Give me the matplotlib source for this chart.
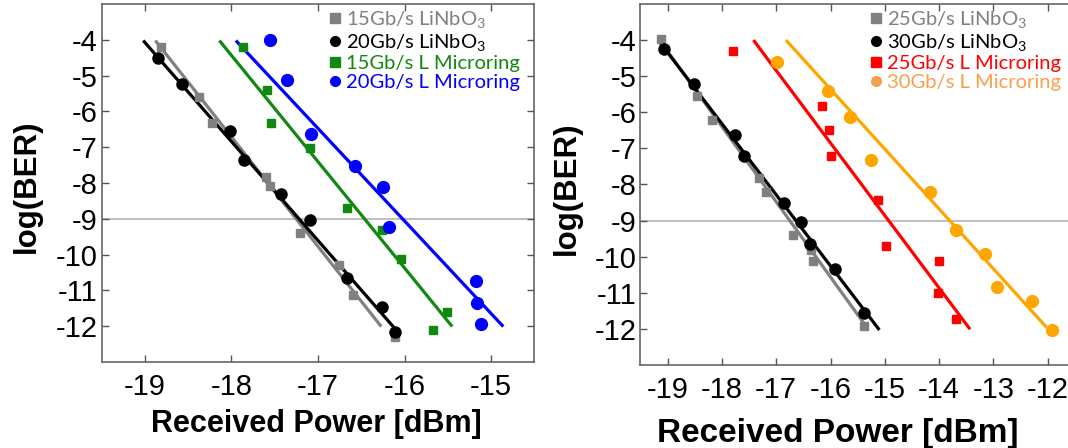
import matplotlib
matplotlib.use('Agg')
import matplotlib.pyplot as plt
from matplotlib.lines import Line2D

plt.rcParams['font.family'] = ['Liberation Sans', 'DejaVu Sans']
plt.rcParams['mathtext.fontset'] = 'custom'
plt.rcParams['mathtext.rm'] = 'Lato'
plt.rcParams['axes.unicode_minus'] = False

# LEFT PANEL DATA (15 / 20 Gb/s)
l15_ln_x = [-18.81, -18.37, -18.22, -17.60, -17.56, -17.21, -16.76, -16.60, -16.11]
l15_ln_y = [-4.21, -5.60, -6.32, -7.84, -8.09, -9.40, -10.30, -11.12, -12.31]
l20_ln_x = [-18.85, -18.57, -18.02, -17.86, -17.43, -17.09, -16.66, -16.26, -16.11]
l20_ln_y = [-4.51, -5.23, -6.56, -7.35, -8.32, -9.02, -10.65, -11.45, -12.15]
l15_mr_x = [-17.87, -17.59, -17.54, -17.09, -16.67, -16.26, -16.04, -15.51, -15.67]
l15_mr_y = [-4.21, -5.40, -6.32, -7.03, -8.70, -9.31, -10.12, -11.61, -12.12]
l20_mr_x = [-17.55, -17.36, -17.08, -16.57, -16.25, -16.18, -15.18, -15.16, -15.12]
l20_mr_y = [-4.00, -5.12, -6.63, -7.53, -8.12, -9.22, -10.73, -11.34, -11.94]
# fitted lines (end points)
l15_ln_fit_x, l15_ln_fit_y = [-18.88, -16.27], [-4.02, -12.01]
l20_ln_fit_x, l20_ln_fit_y = [-19.02, -16.06], [-4.02, -12.21]
l15_mr_fit_x, l15_mr_fit_y = [-18.14, -15.45], [-4.02, -12.01]
l20_mr_fit_x, l20_mr_fit_y = [-17.95, -14.86], [-4.02, -12.01]

# RIGHT PANEL DATA (25 / 30 Gb/s)
r25_ln_x = [-19.13, -18.46, -18.19, -17.31, -17.19, -16.69, -16.36, -16.33, -15.38]
r25_ln_y = [-3.97, -5.54, -6.21, -7.81, -8.22, -9.40, -9.82, -10.11, -11.93]
r30_ln_x = [-19.06, -18.52, -17.76, -17.59, -16.85, -16.54, -16.38, -15.91, -15.39]
r30_ln_y = [-4.25, -5.22, -6.63, -7.20, -8.51, -9.03, -9.65, -10.33, -11.55]
r25_mr_x = [-17.80, -16.15, -16.03, -16.00, -15.13, -14.98, -14.00, -14.02, -13.69]
r25_mr_y = [-4.30, -5.82, -6.49, -7.20, -8.43, -9.70, -10.11, -11.00, -11.73]
r30_mr_x = [-16.98, -16.05, -15.64, -15.26, -14.17, -13.69, -13.15, -12.93, -12.29, -11.92]
r30_mr_y = [-4.62, -5.42, -6.12, -7.32, -8.22, -9.25, -9.93, -10.85, -11.24, -12.03]
r25_ln_fit_x, r25_ln_fit_y = [-19.15, -15.33], [-4.00, -11.96]
r30_ln_fit_x, r30_ln_fit_y = [-19.15, -15.10], [-4.05, -12.03]
r25_mr_fit_x, r25_mr_fit_y = [-17.42, -13.43], [-4.00, -12.01]
r30_mr_fit_x, r30_mr_fit_y = [-16.82, -12.02], [-4.00, -11.96]

left_xticks = [-19, -18, -17, -16, -15]
right_xticks = [-19, -18, -17, -16, -15, -14, -13, -12]
yticks = [-12, -11, -10, -9, -8, -7, -6, -5, -4]
ber_limit = -9

fig = plt.figure(figsize=(10.68, 4.48), dpi=100)
ax1 = fig.add_axes([0.0952, 0.192, 0.4052, 0.799])
ax2 = fig.add_axes([0.5997, 0.1853, 0.4067, 0.8058])

GREY = '#808080'
ORANGE = '#ffa500'


def series(ax, x, y, fx, fy, color, marker, ms):
    ax.plot(fx, fy, color=color, lw=2.3, solid_capstyle='butt', zorder=2)
    ax.plot(x, y, linestyle='none', marker=marker, color=color, markersize=ms, zorder=3)


series(ax1, l15_ln_x, l15_ln_y, l15_ln_fit_x, l15_ln_fit_y, GREY, 's', 5.5)
series(ax1, l20_ln_x, l20_ln_y, l20_ln_fit_x, l20_ln_fit_y, 'black', 'o', 8)
series(ax1, l15_mr_x, l15_mr_y, l15_mr_fit_x, l15_mr_fit_y, '#118811', 's', 5.5)
series(ax1, l20_mr_x, l20_mr_y, l20_mr_fit_x, l20_mr_fit_y, '#0000ff', 'o', 8.5)

series(ax2, r25_ln_x, r25_ln_y, r25_ln_fit_x, r25_ln_fit_y, GREY, 's', 5.5)
series(ax2, r30_ln_x, r30_ln_y, r30_ln_fit_x, r30_ln_fit_y, 'black', 'o', 8)
series(ax2, r25_mr_x, r25_mr_y, r25_mr_fit_x, r25_mr_fit_y, '#ff0000', 's', 5.5)
series(ax2, r30_mr_x, r30_mr_y, r30_mr_fit_x, r30_mr_fit_y, ORANGE, 'o', 8.5)

for ax, xt, xlim, xfs in [(ax1, left_xticks, (-19.5, -14.5), 21),
                          (ax2, right_xticks, (-19.5, -11.5), 21)]:
    ax.axhline(ber_limit, color='#c0c0c0', lw=1.5, zorder=1)
    ax.set_xlim(*xlim)
    ax.set_ylim(-13, -3)
    ax.set_xticks(xt)
    ax.set_yticks(yticks)
    ax.tick_params(direction='in', length=5, width=1, color='#555555',
                   top=True, right=True)
    ax.tick_params(axis='x', labelsize=xfs, pad=8)
    ax.tick_params(axis='y', labelsize=21, pad=3)
    for sp in ax.spines.values():
        sp.set_color('#666666')
        sp.set_linewidth(1.2)

# axis labels
fig.text(27 / 1068, 1 - 186 / 448, 'log(BER)', rotation=90, ha='center', va='center',
         fontsize=22.5, fontweight='bold')
fig.text(567 / 1068, 1 - 188 / 448, 'log(BER)', rotation=90, ha='center', va='center',
         fontsize=22.5, fontweight='bold')
fig.text(316 / 1068, 1 - 424 / 448, 'Received Power [dBm]', ha='center', va='center',
         fontsize=22, fontweight='bold')
fig.text(838 / 1068, 1 - 433 / 448, 'Received Power [dBm]', ha='center', va='center',
         fontsize=24, fontweight='bold')

# legends
left_labels = ['15Gb/s LiNbO$_\\mathregular{3}$', '20Gb/s LiNbO$_\\mathregular{3}$',
               '15Gb/s L Microring', '20Gb/s L Microring']
left_colors = [GREY, 'black', '#118811', '#0000ff']
left_markers = ['s', 'o', 's', 'o']
right_labels = ['25Gb/s LiNbO$_\\mathregular{3}$', '30Gb/s LiNbO$_\\mathregular{3}$',
                '25Gb/s L Microring', '30Gb/s L Microring']
right_colors = [GREY, 'black', '#ff0000', '#f7a04a']
right_markers = ['s', 'o', 's', 'o']


def legend(ax, labels, colors, markers, anchor):
    handles = [Line2D([], [], linestyle='none', marker=m, color=c, markersize=7)
               for m, c in zip(markers, colors)]
    leg = ax.legend(handles, labels, loc='upper left', bbox_to_anchor=anchor,
                    frameon=False, handlelength=0.5, handletextpad=0.3,
                    labelspacing=0.08, borderpad=0, borderaxespad=0,
                    prop={'family': 'Lato', 'size': 14.5})
    for t, c in zip(leg.get_texts(), colors):
        t.set_color(c)


legend(ax1, left_labels, left_colors, left_markers, (0.528, 0.985))
legend(ax2, right_labels, right_colors, right_markers, (0.53, 0.985))

fig.savefig('out.png', dpi=100)
